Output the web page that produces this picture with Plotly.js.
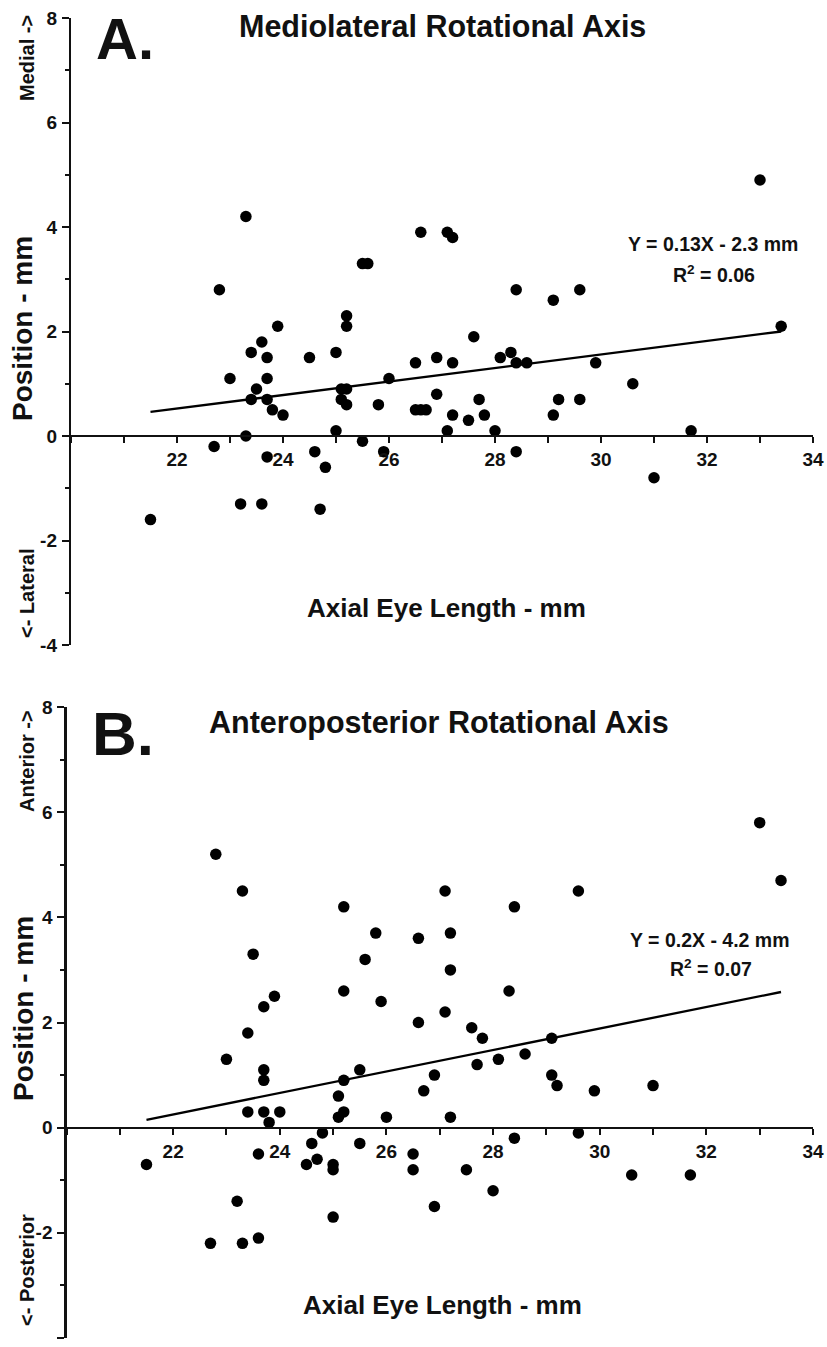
<!DOCTYPE html>
<html>
<head>
<meta charset="utf-8">
<script src="https://cdn.plot.ly/plotly-3.0.1.min.js"></script>
<style>
html,body{margin:0;padding:0;background:#fff;}
#chart{width:827px;height:1347px;}
</style>
</head>
<body>
<div id="chart"></div>
<script>
// ---- Panel A: Mediolateral ----
const axialA = [21.5,22.7,22.8,23.0,23.2,23.3,23.3,23.4,23.4,23.5,23.6,23.6,23.7,23.7,23.7,23.7,23.8,23.9,24.0,24.5,24.6,24.7,24.8,25.0,25.0,25.1,25.1,25.2,25.2,25.2,25.2,25.5,25.5,25.6,25.8,25.9,26.0,26.5,26.5,26.6,26.7,26.6,26.9,26.9,27.1,27.2,27.1,27.2,27.2,27.5,27.6,27.7,27.8,28.0,28.1,28.3,28.4,28.4,28.4,28.6,29.1,29.1,29.2,29.6,29.6,29.9,30.6,31.0,31.7,33.0,33.4];
const posA   = [-1.6,-0.2,2.8,1.1,-1.3,4.2,0.0,1.6,0.7,0.9,1.8,-1.3,1.5,1.1,0.7,-0.4,0.5,2.1,0.4,1.5,-0.3,-1.4,-0.6,1.6,0.1,0.9,0.7,2.3,2.1,0.9,0.6,-0.1,3.3,3.3,0.6,-0.3,1.1,1.4,0.5,0.5,0.5,3.9,1.5,0.8,3.9,3.8,0.1,1.4,0.4,0.3,1.9,0.7,0.4,0.1,1.5,1.6,1.4,2.8,-0.3,1.4,0.4,2.6,0.7,2.8,0.7,1.4,1.0,-0.8,0.1,4.9,2.1];
const fitAx = [21.5, 33.4];
const fitAy = [0.46, 2.0];

// ---- Panel B: Anteroposterior ----
const axialB = [21.5,22.7,22.8,23.0,23.2,23.3,23.3,23.4,23.4,23.5,23.6,23.6,23.7,23.7,23.7,23.7,23.8,23.9,24.0,24.5,24.6,24.7,24.8,25.0,25.0,25.0,25.1,25.1,25.2,25.2,25.2,25.2,25.5,25.5,25.6,25.8,25.9,26.0,26.5,26.5,26.6,26.6,26.7,26.9,26.9,27.1,27.1,27.2,27.2,27.2,27.5,27.6,27.7,27.8,28.0,28.1,28.3,28.4,28.4,28.6,29.1,29.1,29.2,29.6,29.6,29.9,30.6,31.0,31.7,33.0,33.4];
const posB   = [-0.7,-2.2,5.2,1.3,-1.4,-2.2,4.5,1.8,0.3,3.3,-2.1,-0.5,2.3,1.1,0.9,0.3,0.1,2.5,0.3,-0.7,-0.3,-0.6,-0.1,-0.7,-0.8,-1.7,0.6,0.2,0.3,0.9,2.6,4.2,1.1,-0.3,3.2,3.7,2.4,0.2,-0.5,-0.8,3.6,2.0,0.7,1.0,-1.5,4.5,2.2,3.7,3.0,0.2,-0.8,1.9,1.2,1.7,-1.2,1.3,2.6,4.2,-0.2,1.4,1.7,1.0,0.8,4.5,-0.1,0.7,-0.9,0.8,-0.9,5.8,4.7];
const fitBx = [21.5, 33.4];
const fitBy = [0.15, 2.58];

const xTicks = [22,24,26,28,30,32,34];
const yTicks = [-4,-2,0,2,4,6,8];
const yTickText = ['-4','-2','0','2','4','6','8'];
const xRange = [20,34];
const yRange = [-4,8];

const W = 827, H = 1347;
const FONT = "Liberation Sans, Arial, sans-serif";
const px = v => v / W;
const py = v => 1 - v / H;

const domA = {x:[px(71), px(813)], y:[py(645), py(18)]};
const domB = {x:[px(66.5), px(813)], y:[py(1338), py(707)]};
function zeroPos(dom){ return dom.y[0] + (0 - yRange[0])/(yRange[1]-yRange[0])*(dom.y[1]-dom.y[0]); }

const tickFont = {family:FONT, size:19, color:'#111', weight:'bold'};
function xax(dom){
  return {domain:dom.x, range:xRange, anchor:'free', position:zeroPos(dom),
    showline:true, linewidth:2.2, linecolor:'#111', showgrid:false, zeroline:false,
    tickmode:'array', tickvals:xTicks, ticks:'outside', ticklen:6, tickwidth:2, tickcolor:'#111',
    tickfont:tickFont, minor:{dtick:1, ticks:'outside', ticklen:6, tickwidth:2, tickcolor:'#111', showgrid:false},
    fixedrange:true};
}
function yax(dom, xname){
  return {domain:dom.y, range:yRange, anchor:xname,
    showline:true, linewidth:2.2, linecolor:'#111', showgrid:false, zeroline:false,
    tickmode:'array', tickvals:yTicks, ticktext:yTickText, ticks:'outside', ticklen:7, tickwidth:2, tickcolor:'#111',
    tickfont:tickFont, ticklabelstandoff:1, minor:{dtick:1, ticks:'outside', ticklen:4, tickwidth:2, tickcolor:'#111', showgrid:false},
    fixedrange:true};
}

const marker = {color:'#000', size:11.5};
const traces = [
  {x:axialA, y:posA, type:'scatter', mode:'markers', marker:marker, xaxis:'x', yaxis:'y', cliponaxis:false, hoverinfo:'x+y'},
  {x:fitAx, y:fitAy, type:'scatter', mode:'lines', line:{color:'#000', width:2.3}, xaxis:'x', yaxis:'y', hoverinfo:'skip'},
  {x:axialB, y:posB, type:'scatter', mode:'markers', marker:marker, xaxis:'x2', yaxis:'y2', cliponaxis:false, hoverinfo:'x+y'},
  {x:fitBx, y:fitBy, type:'scatter', mode:'lines', line:{color:'#000', width:2.3}, xaxis:'x2', yaxis:'y2', hoverinfo:'skip'}
];

function ann(text, x, y, size, opts){
  return Object.assign({text:text, xref:'paper', yref:'paper', x:px(x), y:py(y), showarrow:false,
    xanchor:'center', yanchor:'middle', font:{family:FONT, size:size, color:'#111', weight:'bold'}}, opts||{});
}

const annotations = [
  ann('A.', 125, 38, 58),
  ann('Mediolateral Rotational Axis', 442, 26, 30.5),
  ann('Y = 0.13X - 2.3 mm', 713, 244, 19.5),
  ann('R<sup>2</sup> = 0.06', 714, 274, 19.5),
  ann('Position - mm', 23, 329, 28, {textangle:-90}),
  ann('Medial -&gt;', 27, 58, 20, {textangle:-90}),
  ann('&lt;- Lateral', 27, 594, 20, {textangle:-90}),
  ann('Axial Eye Length - mm', 447, 608, 26),

  ann('B.', 123, 733, 62),
  ann('Anteroposterior Rotational Axis', 439, 722, 30.5),
  ann('Y = 0.2X - 4.2 mm', 710, 940, 19.5),
  ann('R<sup>2</sup> = 0.07', 711, 968, 19.5),
  ann('Position - mm', 23, 1009, 28, {textangle:-90}),
  ann('Anterior -&gt;', 27, 761, 20, {textangle:-90}),
  ann('&lt;- Posterior', 27, 1270, 20, {textangle:-90}),
  ann('Axial Eye Length - mm', 442, 1305, 26)
];

const layout = {
  width:W, height:H, margin:{l:0,r:0,t:0,b:0},
  paper_bgcolor:'#fff', plot_bgcolor:'rgba(0,0,0,0)',
  showlegend:false, font:{family:FONT, color:'#111'},
  xaxis:xax(domA), yaxis:yax(domA,'x'),
  xaxis2:xax(domB), yaxis2:yax(domB,'x2'),
  annotations:annotations
};

Plotly.newPlot('chart', traces, layout, {displayModeBar:false, staticPlot:true});
</script>
</body>
</html>
